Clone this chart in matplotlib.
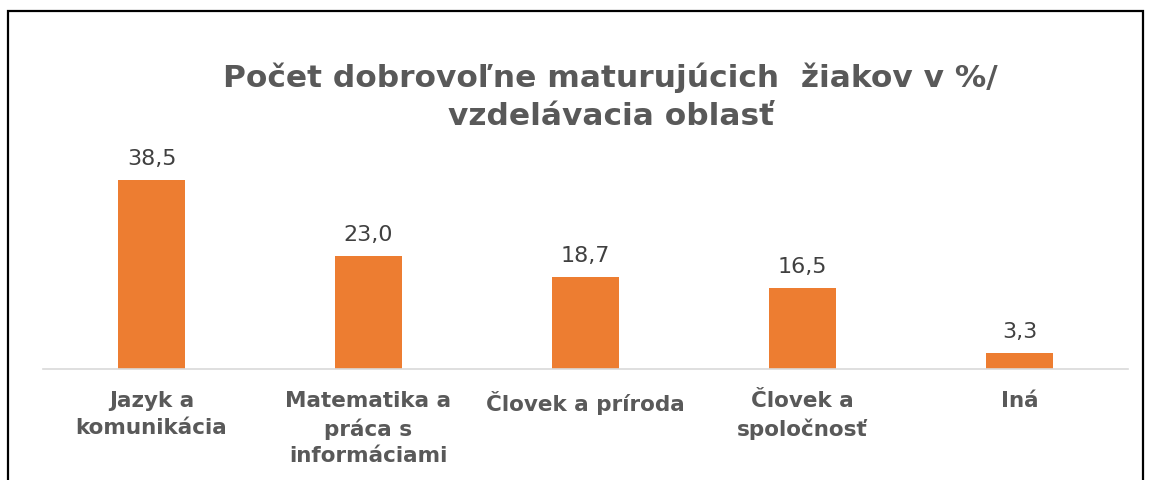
import matplotlib.pyplot as plt
from matplotlib.patches import Rectangle

# data
categories = ['Jazyk a\nkomunikácia', 'Matematika a\npráca s\ninformáciami',
              'Človek a príroda', 'Človek a\nspoločnosť', 'Iná']
values = [38.5, 23.0, 18.7, 16.5, 3.3]

bar_color = '#ED7D31'
text_gray = '#595959'
plt.rcParams['font.family'] = ['DejaVu Sans']

fig = plt.figure(figsize=(11.5, 4.8), dpi=100)
ax = fig.add_axes([0.0374, 0.231, 0.9436, 0.461])

x = range(len(values))
bars = ax.bar(x, values, width=0.31, color=bar_color)
ax.set_xlim(-0.5, len(values) - 0.5)
ax.set_ylim(0, 45)

# value labels above each bar
for rect, v in zip(bars, values):
    ax.annotate('{:.1f}'.format(v).replace('.', ','),
                (rect.get_x() + rect.get_width() / 2, rect.get_height()),
                xytext=(0, 8), textcoords='offset points',
                ha='center', va='bottom', fontsize=16, color='#404040')

ax.set_xticks(list(x))
ax.set_xticklabels(categories, fontsize=15.5, fontweight='bold',
                   color=text_gray, linespacing=1.4, va='top')
ax.tick_params(axis='x', length=0, pad=16)
ax.set_yticks([])
for side in ['top', 'right', 'left']:
    ax.spines[side].set_visible(False)
ax.spines['bottom'].set_color('#D9D9D9')
ax.spines['bottom'].set_linewidth(1.2)

fig.text(0.531, 0.798, 'Počet dobrovoľne maturujúcich  žiakov v %/\nvzdelávacia oblasť',
         ha='center', va='center', fontsize=22.5, fontweight='bold',
         color=text_gray, linespacing=1.38)

# outer frame around the chart
fig.add_artist(Rectangle((0.007, -0.1), 0.987, 1.077, transform=fig.transFigure,
                         fill=False, edgecolor='black', linewidth=1.6))

fig.savefig('out.png', dpi=100)
